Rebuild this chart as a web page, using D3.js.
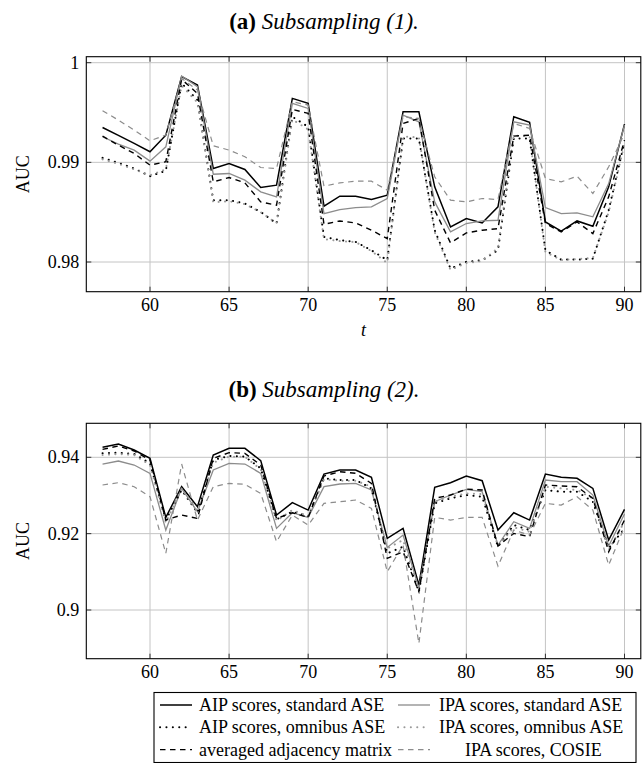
<!DOCTYPE html>
<html><head><meta charset="utf-8">
<script src="https://cdn.jsdelivr.net/npm/d3@7/dist/d3.min.js"></script>
<style>
body{margin:0;background:#fff}
svg{display:block}
</style>
</head><body>
<svg id="c" width="642" height="763" font-family="'Liberation Serif', 'Times New Roman', 'DejaVu Serif', serif"></svg>
<script>
// ---------- data ----------
const tValues = [57,58,59,60,61,62,63,64,65,66,67,68,69,70,71,72,73,74,75,76,77,78,79,80,81,82,83,84,85,86,87,88,89,90];
const xTicks = [60,65,70,75,80,85,90];
const xTickLabels = ["60","65","70","75","80","85","90"];
const yTicksA = [0.98,0.99,1];
const yTickLabelsA = ["0.98","0.99","1"];
const yTicksB = [0.9,0.92,0.94];
const yTickLabelsB = ["0.9","0.92","0.94"];
const seriesNames = ["AIP scores, standard ASE","IPA scores, standard ASE","AIP scores, omnibus ASE","IPA scores, omnibus ASE","averaged adjacency matrix","IPA scores, COSIE"];

// (a) Subsampling (1)
const aipStdA  = [0.99350,0.99270,0.99190,0.99106,0.99273,0.99860,0.99776,0.98939,0.98989,0.98929,0.98747,0.98771,0.99642,0.99592,0.98560,0.98660,0.98660,0.98627,0.98670,0.99508,0.99508,0.98754,0.98352,0.98436,0.98392,0.98553,0.99458,0.99401,0.98402,0.98309,0.98412,0.98359,0.98754,0.99384];
const ipaStdA  = [0.99257,0.99183,0.99123,0.99012,0.99156,0.99866,0.99759,0.98881,0.98888,0.98821,0.98704,0.98654,0.99592,0.99541,0.98486,0.98526,0.98546,0.98553,0.98637,0.99474,0.99407,0.98603,0.98302,0.98386,0.98413,0.98419,0.99407,0.99374,0.98546,0.98486,0.98493,0.98453,0.98787,0.99374];
const aipOmniA = [0.99045,0.98995,0.98938,0.98861,0.98915,0.99793,0.99625,0.98620,0.98620,0.98587,0.98503,0.98386,0.99458,0.99357,0.98252,0.98219,0.98202,0.98118,0.98018,0.99240,0.99240,0.98319,0.97934,0.98001,0.98018,0.98118,0.99240,0.99240,0.98118,0.98024,0.98024,0.98034,0.98520,0.99206];
const ipaOmniA = [0.99030,0.98985,0.98930,0.98870,0.98930,0.99770,0.99600,0.98600,0.98610,0.98580,0.98500,0.98390,0.99430,0.99330,0.98230,0.98210,0.98200,0.98110,0.97990,0.99260,0.99250,0.98300,0.97920,0.97990,0.98010,0.98140,0.99270,0.99260,0.98100,0.98020,0.98030,0.98040,0.98500,0.99190];
const avgAdjA  = [0.99263,0.99173,0.99089,0.98972,0.99006,0.99833,0.99692,0.98804,0.98848,0.98794,0.98603,0.98570,0.99531,0.99491,0.98379,0.98412,0.98392,0.98319,0.98235,0.99390,0.99441,0.98520,0.98192,0.98292,0.98319,0.98335,0.99263,0.99273,0.98386,0.98302,0.98402,0.98285,0.98654,0.99223];
const cosieA   = [0.99518,0.99424,0.99324,0.99216,0.99273,0.99843,0.99725,0.99166,0.99123,0.99056,0.98948,0.98938,0.99608,0.99575,0.98761,0.98794,0.98811,0.98811,0.98721,0.99458,0.99441,0.98855,0.98620,0.98603,0.98637,0.98627,0.99390,0.99340,0.98838,0.98804,0.98861,0.98687,0.98955,0.99290];

// (b) Subsampling (2)
const aipStdB  = [0.94261,0.94349,0.94191,0.93973,0.92426,0.93230,0.92706,0.94060,0.94235,0.94235,0.93912,0.92487,0.92811,0.92618,0.93562,0.93667,0.93667,0.93475,0.91876,0.92138,0.90653,0.93213,0.93335,0.93510,0.93387,0.92094,0.92548,0.92356,0.93562,0.93475,0.93449,0.93186,0.91833,0.92636];
const ipaStdB  = [0.93824,0.93903,0.93798,0.93580,0.92094,0.93186,0.92575,0.93667,0.93842,0.93824,0.93580,0.92138,0.92548,0.92426,0.93230,0.93300,0.93318,0.93143,0.91640,0.91963,0.90566,0.92837,0.93012,0.93160,0.93099,0.91701,0.92313,0.92138,0.93405,0.93361,0.93361,0.93012,0.91675,0.92514];
const aipOmniB = [0.94104,0.94121,0.94087,0.93842,0.92357,0.93143,0.92548,0.93929,0.94034,0.94017,0.93711,0.92374,0.92575,0.92461,0.93449,0.93405,0.93405,0.93186,0.91483,0.91658,0.90478,0.92793,0.92924,0.93012,0.92968,0.91658,0.92225,0.92094,0.93143,0.93099,0.93099,0.92837,0.91614,0.92138];
const ipaOmniB = [0.94060,0.94087,0.94060,0.93798,0.92287,0.93186,0.92575,0.93859,0.94017,0.94017,0.93685,0.92339,0.92618,0.92461,0.93422,0.93388,0.93388,0.93230,0.91614,0.91833,0.90522,0.92837,0.92968,0.93055,0.93038,0.91675,0.92164,0.92051,0.93230,0.93186,0.93143,0.92924,0.91570,0.92312];
const avgAdjB  = [0.94209,0.94296,0.94165,0.93929,0.92357,0.92487,0.92400,0.93973,0.94121,0.94104,0.93798,0.92400,0.92548,0.92426,0.93510,0.93623,0.93580,0.93318,0.91352,0.91526,0.90478,0.92924,0.93012,0.93169,0.93143,0.91675,0.92007,0.91920,0.93274,0.93248,0.93230,0.92924,0.91526,0.92357];
const cosieB   = [0.93274,0.93335,0.93230,0.92968,0.91483,0.93824,0.92357,0.93230,0.93318,0.93291,0.93055,0.91788,0.92487,0.92225,0.92793,0.92837,0.92881,0.92662,0.91002,0.91701,0.89124,0.92426,0.92357,0.92426,0.92426,0.91150,0.92094,0.91963,0.92793,0.92749,0.92968,0.92618,0.91176,0.92182];

// ---------- styles ----------
const styles = [
  {color:"#000", width:1.5, dash:null, cap:"butt"},
  {color:"#8c8c8c", width:1.3, dash:null, cap:"butt"},
  {color:"#000", width:2.0, dash:"0.1,6.3", cap:"round"},
  {color:"#9a9a9a", width:2.0, dash:"0.1,6.3", cap:"round"},
  {color:"#000", width:1.4, dash:"5.5,4.5", cap:"butt"},
  {color:"#8c8c8c", width:1.2, dash:"5.5,4.5", cap:"butt"}
];
const FONT = "'Liberation Serif', 'Times New Roman', 'DejaVu Serif', serif";

const svg = d3.select("#c");
const left = 86.3, right = 640.8;

function panel(id, top, bottom, yDom, yRange, yTicks, yLabels, series, title, titleY, xLabelBaseline, showT){
  const x = d3.scaleLinear().domain([60,90]).range([150,624.5]);
  const y = d3.scaleLinear().domain(yDom).range(yRange);
  const g = svg.append("g").attr("font-family", FONT);

  // title
  const tt = g.append("text").attr("x",324).attr("y",titleY).attr("text-anchor","middle").attr("font-size",23);
  tt.append("tspan").attr("font-weight","bold").text(title[0]);
  tt.append("tspan").attr("font-style","italic").text(" " + title[1]);

  // grid
  g.append("g").selectAll("line").data(xTicks).join("line")
    .attr("x1",d=>x(d)).attr("x2",d=>x(d)).attr("y1",top).attr("y2",bottom)
    .attr("stroke","#c4c4c4").attr("stroke-width",1);
  g.append("g").selectAll("line").data(yTicks).join("line")
    .attr("x1",left).attr("x2",right).attr("y1",d=>y(d)).attr("y2",d=>y(d))
    .attr("stroke","#c4c4c4").attr("stroke-width",1);

  // clip
  svg.append("clipPath").attr("id","clip"+id).append("rect")
    .attr("x",left).attr("y",top).attr("width",right-left).attr("height",bottom-top);

  const line = d3.line().x((d,i)=>x(tValues[i])).y(d=>y(d));
  const lg = g.append("g").attr("clip-path","url(#clip"+id+")");
  series.forEach((s,k)=>{
    const st = styles[k];
    lg.append("path").datum(s).attr("d",line).attr("fill","none")
      .attr("stroke",st.color).attr("stroke-width",st.width)
      .attr("stroke-dasharray",st.dash).attr("stroke-linecap",st.cap)
      .attr("stroke-linejoin","miter");
  });

  // tick marks inside
  const tk = g.append("g").attr("stroke","#333").attr("stroke-width",1);
  xTicks.forEach(d=>{
    tk.append("line").attr("x1",x(d)).attr("x2",x(d)).attr("y1",bottom).attr("y2",bottom-5);
    tk.append("line").attr("x1",x(d)).attr("x2",x(d)).attr("y1",top).attr("y2",top+5);
  });
  yTicks.forEach(d=>{
    tk.append("line").attr("x1",left).attr("x2",left+5).attr("y1",y(d)).attr("y2",y(d));
    tk.append("line").attr("x1",right).attr("x2",right-5).attr("y1",y(d)).attr("y2",y(d));
  });

  // box
  g.append("rect").attr("x",left).attr("y",top).attr("width",right-left).attr("height",bottom-top)
    .attr("fill","none").attr("stroke","#000").attr("stroke-width",1.1);

  // tick labels
  g.append("g").selectAll("text").data(xTicks).join("text")
    .attr("x",d=>x(d)).attr("y",xLabelBaseline).attr("text-anchor","middle")
    .attr("font-size",18).text((d,i)=>xTickLabels[i]);
  g.append("g").selectAll("text").data(yTicks).join("text")
    .attr("x",left-7).attr("y",d=>y(d)+6).attr("text-anchor","end")
    .attr("font-size",18).text((d,i)=>yLabels[i]);

  // axis labels
  g.append("text").attr("transform",`translate(29,${(top+bottom)/2}) rotate(-90)`)
    .attr("text-anchor","middle").attr("font-size",18).text("AUC");
  if(showT){
    g.append("text").attr("x",(left+right)/2).attr("y",xLabelBaseline+25).attr("text-anchor","middle")
      .attr("font-size",18).attr("font-style","italic").text("t");
  }
}

panel("a", 56.7, 291.7, [0.98,1], [262,62.7], yTicksA, yTickLabelsA,
  [aipStdA, ipaStdA, aipOmniA, ipaOmniA, avgAdjA, cosieA], ["(a)","Subsampling (1)."], 29, 310.5, true);
panel("b", 423.3, 658.7, [0.9,0.94], [610,457.3], yTicksB, yTickLabelsB,
  [aipStdB, ipaStdB, aipOmniB, ipaOmniB, avgAdjB, cosieB], ["(b)","Subsampling (2)."], 397, 678, false);

// ---------- legend ----------
const lgd = svg.append("g").attr("font-family", FONT);
lgd.append("rect").attr("x",154).attr("y",692.5).attr("width",482).attr("height",70)
  .attr("fill","#fff").attr("stroke","#000").attr("stroke-width",1.1);
const colSample = [160,398], colText = [199,439];
seriesNames.forEach((name,k)=>{
  const col = k%2, row = Math.floor(k/2);
  const base = 711 + row*22.3;
  const st = styles[k];
  lgd.append("line").attr("x1",colSample[col]).attr("x2",colSample[col]+32)
    .attr("y1",base-6).attr("y2",base-6)
    .attr("stroke",st.color).attr("stroke-width",st.width)
    .attr("stroke-dasharray",st.dash).attr("stroke-linecap",st.cap);
  const tx = (k===5) ? 465 : colText[col];
  lgd.append("text").attr("x",tx).attr("y",base).attr("font-size",18).text(name);
});
</script>
</body></html>
